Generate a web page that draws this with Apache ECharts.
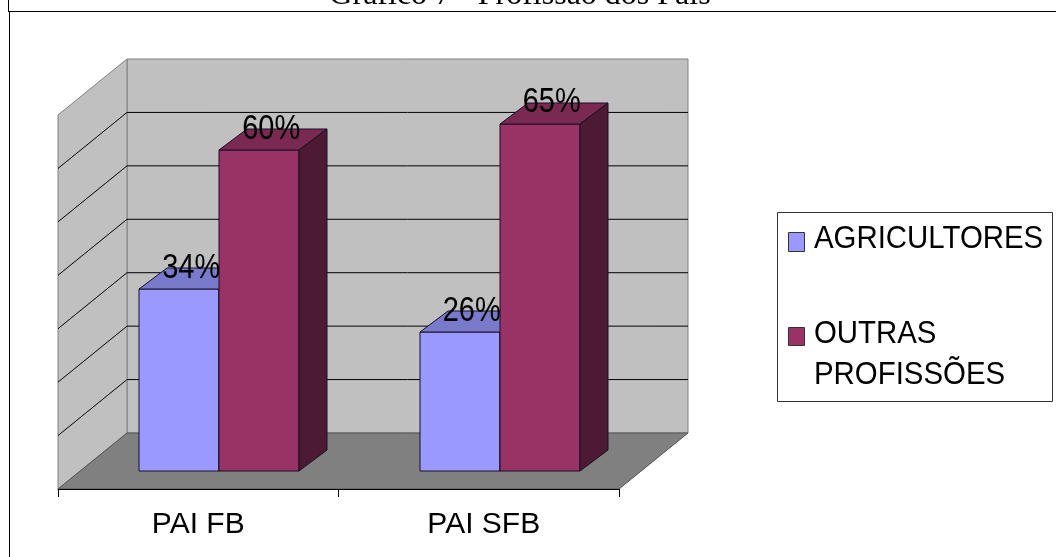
<!DOCTYPE html>
<html>
<head>
<meta charset="utf-8">
<style>
html, body { margin: 0; padding: 0; background: #fff; }
#chart { width: 1056px; height: 557px; }
</style>
<script src="https://cdn.jsdelivr.net/npm/echarts@6/dist/echarts.min.js"></script>
</head>
<body>
<div id="chart"></div>
<script>
var categories = ['PAI FB', 'PAI SFB'];
var agricultores = [34, 26];
var outrasProfissoes = [60, 65];
var valueTicks = [0, 10, 20, 30, 40, 50, 60, 70];
var seriesNames = ['AGRICULTORES', 'OUTRAS PROFISSÕES'];

var SANS = '"Liberation Sans", Arial, sans-serif';
var WALL = [69, -56];     // how far the back wall sits behind the front edge
var BAR_SHIFT = [21, -18]; // bars stand a bit in from the front edge
var BAR_DEPTH = [28, -21];
var BAR_W = 80;

function poly(points, fill, stroke) {
    return {
        type: 'polygon',
        shape: { points: points },
        style: { fill: fill, stroke: stroke, lineWidth: 1 }
    };
}

// left and right ends of the front edge of the floor
function floorEnds(api) {
    var band = api.size([1, 0])[0];
    var x0 = api.coord([0, 0])[0] - band / 2;
    return [x0, x0 + band * categories.length];
}

function renderWalls(params, api) {
    var ends = floorEnds(api);
    var x0 = ends[0];
    var x1 = ends[1];
    var y0 = api.coord([0, 0])[1];
    var y1 = api.coord([0, 70])[1];
    var dx = WALL[0];
    var dy = WALL[1];
    return {
        type: 'group',
        children: [
            poly([[x0 + dx, y1 + dy], [x1 + dx, y1 + dy], [x1 + dx, y0 + dy], [x0 + dx, y0 + dy]], '#c0c0c0', '#808080'),
            poly([[x0, y1], [x0 + dx, y1 + dy], [x0 + dx, y0 + dy], [x0, y0]], '#c0c0c0', '#808080'),
            poly([[x0, y0], [x0 + dx, y0 + dy], [x1 + dx, y0 + dy], [x1, y0]], '#808080', '#555')
        ]
    };
}

function renderGridline(params, api) {
    var v = api.value(0);
    if (v === 0 || v === 70) return null;
    var ends = floorEnds(api);
    var y = api.coord([0, v])[1];
    var back = y + WALL[1];
    return {
        type: 'polyline',
        shape: { points: [[ends[0], y], [ends[0] + WALL[0], back], [ends[1] + WALL[0], back]] },
        style: { fill: null, stroke: '#000', lineWidth: 1 }
    };
}

function makeBarRenderer(front, top, side, offset) {
    return function (params, api) {
        var c = api.coord([api.value(0), api.value(1)]);
        var base = api.coord([api.value(0), 0]);
        var x0 = Math.round(c[0] + BAR_SHIFT[0] + offset * BAR_W);
        var x1 = x0 + BAR_W;
        var yt = Math.round(c[1] + BAR_SHIFT[1]);
        var yb = Math.round(base[1] + BAR_SHIFT[1]);
        var dx = BAR_DEPTH[0];
        var dy = BAR_DEPTH[1];
        return {
            type: 'group',
            children: [
                poly([[x0, yt], [x1, yt], [x1, yb], [x0, yb]], front, '#1a0f26'),
                poly([[x0, yt], [x0 + dx, yt + dy], [x1 + dx, yt + dy], [x1, yt]], top, '#1a0f26'),
                poly([[x1, yt], [x1 + dx, yt + dy], [x1 + dx, yb + dy], [x1, yb]], side, '#1a0f26')
            ]
        };
    };
}

function makeLabelRenderer(offset) {
    return function (params, api) {
        var c = api.coord([api.value(0), api.value(1)]);
        var x0 = c[0] + BAR_SHIFT[0] + offset * BAR_W;
        var y = c[1] + BAR_SHIFT[1] + BAR_DEPTH[1];
        return {
            type: 'text',
            x: x0 + BAR_W / 2 + BAR_DEPTH[0] / 2 - 2,
            y: y,
            scaleY: 1.2, // the original labels are stretched upright
            style: {
                text: api.value(1) + '%',
                x: 0,
                y: 0,
                align: 'center',
                verticalAlign: 'middle',
                font: '29px ' + SANS,
                fill: '#000'
            }
        };
    };
}

function barData(values) {
    return values.map(function (v, i) { return [i, v]; });
}

function legendText(text, y) {
    return {
        type: 'text',
        x: 814,
        y: y,
        scaleY: 1.08,
        style: { text: text, x: 0, y: 0, verticalAlign: 'middle', font: '29.4px ' + SANS, fill: '#000' }
    };
}

var legendColors = ['#9999ff', '#993366'];
var chart = echarts.init(document.getElementById('chart'));
chart.setOption({
    animation: false,
    backgroundColor: '#fff',
    grid: { left: 58, top: 115, width: 561, height: 374 },
    xAxis: {
        type: 'category',
        data: categories,
        z: 3,
        axisLine: { lineStyle: { color: '#000', width: 1 } },
        axisTick: { show: true, length: 8, lineStyle: { color: '#000' } },
        axisLabel: {
            color: '#000',
            fontFamily: SANS,
            fontSize: 30,
            margin: 21,
            // second label sits a little right of its band centre in the original
            formatter: function (value, i) { return i === 1 ? '{s|' + value + '}' : value; },
            rich: { s: { fontFamily: SANS, fontSize: 30, color: '#000', padding: [0, 0, 0, 10] } }
        }
    },
    yAxis: {
        type: 'value',
        min: 0,
        max: 70,
        interval: 10,
        axisLine: { show: false },
        axisTick: { show: false },
        axisLabel: { show: false },
        splitLine: { show: false }
    },
    series: [
        { type: 'custom', z: 1, data: [[0, 0]], renderItem: renderWalls, silent: true },
        { type: 'custom', z: 1, data: valueTicks.map(function (v) { return [v]; }), encode: { y: 0 }, renderItem: renderGridline, silent: true },
        { type: 'custom', z: 4, name: seriesNames[0], data: barData(agricultores), encode: { x: 0, y: 1 }, renderItem: makeBarRenderer('#9999ff', '#7a7acc', '#4d4d80', -1) },
        { type: 'custom', z: 4, name: seriesNames[1], data: barData(outrasProfissoes), encode: { x: 0, y: 1 }, renderItem: makeBarRenderer('#993366', '#7a2952', '#4d1a33', 0) },
        { type: 'custom', z: 5, data: barData(agricultores), encode: { x: 0, y: 1 }, renderItem: makeLabelRenderer(-1), silent: true },
        { type: 'custom', z: 5, data: barData(outrasProfissoes), encode: { x: 0, y: 1 }, renderItem: makeLabelRenderer(0), silent: true }
    ],
    graphic: [
        // title runs off the top of the page in the original
        { type: 'text', style: { text: 'Gráfico 7 - Profissão dos Pais', x: 520, y: 12, align: 'center', verticalAlign: 'bottom', font: '32px "Liberation Serif", serif', fill: '#000' } },
        // page frame
        { type: 'line', shape: { x1: 8.5, y1: 0, x2: 8.5, y2: 11 }, style: { stroke: '#000', lineWidth: 1 } },
        { type: 'line', shape: { x1: 9.5, y1: 11, x2: 9.5, y2: 557 }, style: { stroke: '#000', lineWidth: 1 } },
        { type: 'line', shape: { x1: 8, y1: 11.5, x2: 1056, y2: 11.5 }, style: { stroke: '#000', lineWidth: 1 } },
        // legend
        { type: 'rect', shape: { x: 777.5, y: 212.5, width: 275, height: 189 }, style: { fill: '#fff', stroke: '#333', lineWidth: 1 } },
        { type: 'rect', shape: { x: 788.5, y: 232.5, width: 16, height: 19 }, style: { fill: legendColors[0], stroke: '#333', lineWidth: 1 } },
        { type: 'rect', shape: { x: 788.5, y: 327.5, width: 16, height: 18 }, style: { fill: legendColors[1], stroke: '#333', lineWidth: 1 } },
        legendText(seriesNames[0], 239),
        legendText(seriesNames[1].split(' ')[0], 334),
        legendText(seriesNames[1].split(' ')[1], 375)
    ]
});
</script>
</body>
</html>
